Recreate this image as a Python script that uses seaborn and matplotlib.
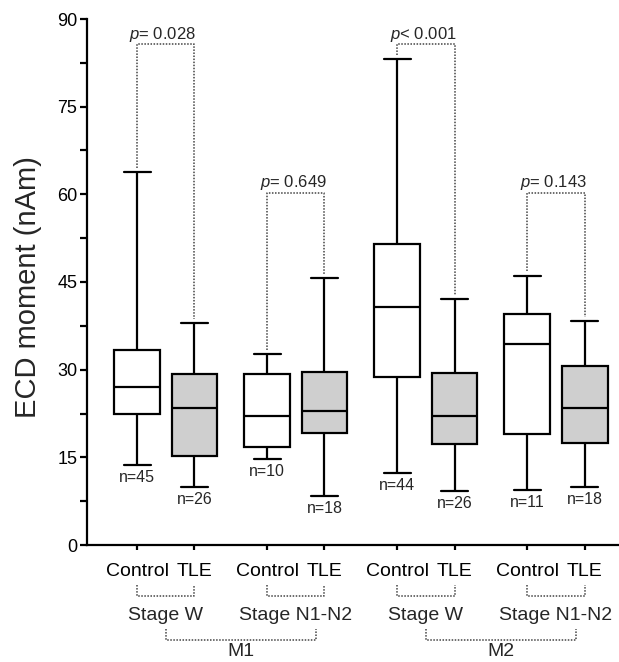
import matplotlib

matplotlib.use("Agg")
import matplotlib.pyplot as plt
import pandas as pd
import seaborn as sns

# Five-number summaries (nAm), one entry per box:
# M1 W Control, M1 W TLE, M1 N1-N2 Control, M1 N1-N2 TLE, then the same for M2
groups = ["Control", "TLE"] * 4
stages = ["Stage W", "Stage N1-N2", "Stage W", "Stage N1-N2"]
models = ["M1", "M2"]
whisker_low = [13.7, 10.0, 14.7, 8.4, 12.3, 9.2, 9.4, 10.0]
q1 = [22.5, 15.2, 16.8, 19.1, 28.7, 17.2, 19.0, 17.4]
median = [27.0, 23.4, 22.0, 23.0, 40.7, 22.1, 34.4, 23.4]
q3 = [33.3, 29.3, 29.3, 29.6, 51.5, 29.4, 39.5, 30.7]
whisker_high = [63.8, 37.9, 32.6, 45.6, 83.2, 42.1, 46.1, 38.3]
n_counts = [45, 26, 10, 18, 44, 26, 11, 18]
p_values = ["= 0.028", "= 0.649", "< 0.001", "= 0.143"]


def main():
    # box positions: pairs of boxes one unit apart, pairs spaced wider
    pair_step = 2.27
    xpos = [(i // 2) * pair_step + (i % 2) for i in range(len(groups))]

    # five values per box -> quartiles by linear interpolation are exact
    rows = []
    for i in range(len(groups)):
        for v in (whisker_low[i], q1[i], median[i], q3[i], whisker_high[i]):
            rows.append({"x": xpos[i], "value": v, "group": groups[i]})
    df = pd.DataFrame(rows)

    sns.set_style("ticks")
    plt.rcParams["font.family"] = ["Liberation Sans", "DejaVu Sans"]
    plt.rcParams["mathtext.fontset"] = "custom"
    plt.rcParams["mathtext.it"] = "Liberation Sans:italic"
    plt.rcParams["mathtext.rm"] = "Liberation Sans"

    fig = plt.figure(figsize=(6.19, 6.62), dpi=100)
    ax = fig.add_axes([87 / 619, 117 / 662, 532 / 619, 526 / 662])

    sns.boxplot(
        data=df,
        x="x",
        y="value",
        hue="group",
        palette={"Control": "white", "TLE": "#cfcfcf"},
        native_scale=True,
        orient="x",
        dodge=False,
        whis=(0, 100),
        width=0.8,
        linecolor="black",
        linewidth=1.6,
        legend=False,
        capwidths=0.47,
        ax=ax,
    )

    ax.set_xlim(-0.875, 8.41)
    ax.set_ylim(0, 90)
    ax.set_yticks(range(0, 91, 15))
    ax.set_yticks([7.5 + 15 * k for k in range(6)], minor=True)
    ax.set_xticks(xpos, groups)
    ax.set_xlabel("")
    ax.set_ylabel("ECD moment (nAm)", fontsize=21, labelpad=10)
    ax.yaxis.set_label_coords(-0.085, 0.49)
    ax.yaxis.label.set_verticalalignment("bottom")
    sns.despine(ax=ax)
    for side in ("left", "bottom"):
        ax.spines[side].set_linewidth(1.6)
        ax.spines[side].set_color("black")
    ax.tick_params(axis="y", which="both", length=5, width=1.6, pad=2,
                   labelsize=13, color="black", labelcolor="black")
    ax.tick_params(axis="x", length=3.5, width=1.6, pad=9.5,
                   labelsize=14, color="black", labelcolor="black")

    dot = dict(color="#444444", linestyle=(0, (1, 1)), linewidth=1.1)

    # p-value brackets above each pair
    gap = 0.7
    for k in range(4):
        i, j = 2 * k, 2 * k + 1
        level = 85.7 if k % 2 == 0 else 60.3
        ax.plot([xpos[i], xpos[i], xpos[j], xpos[j]],
                [whisker_high[i] + gap, level, level, whisker_high[j] + gap], **dot)
        ax.text((xpos[i] + xpos[j]) / 2 - 0.05, level + 0.9, rf"$p${p_values[k]}",
                ha="center", va="baseline", fontsize=12)

    # sample sizes under each lower whisker
    for i in range(len(groups)):
        ax.text(xpos[i], whisker_low[i] - 0.9, f"n={n_counts[i]}",
                ha="center", va="top", fontsize=11.5)

    # grouping brackets below the axis
    trans = ax.get_xaxis_transform()
    for k in range(4):
        i, j = 2 * k, 2 * k + 1
        ax.plot([xpos[i], xpos[i], xpos[j], xpos[j]],
                [-0.076, -0.097, -0.097, -0.076],
                transform=trans, clip_on=False, **dot)
        ax.text((xpos[i] + xpos[j]) / 2, -0.134, stages[k], ha="center", va="center",
                fontsize=14, transform=trans)
    for m in range(2):
        left = (xpos[4 * m] + xpos[4 * m + 1]) / 2
        right = xpos[4 * m + 3] - 0.15
        ax.plot([left, left, right, right], [-0.160, -0.180, -0.180, -0.160],
                transform=trans, clip_on=False, **dot)
        ax.text((left + right) / 2, -0.2195, models[m], ha="center", va="bottom",
                fontsize=14, transform=trans)

    fig.savefig("out.png", dpi=100)


if __name__ == "__main__":
    main()
